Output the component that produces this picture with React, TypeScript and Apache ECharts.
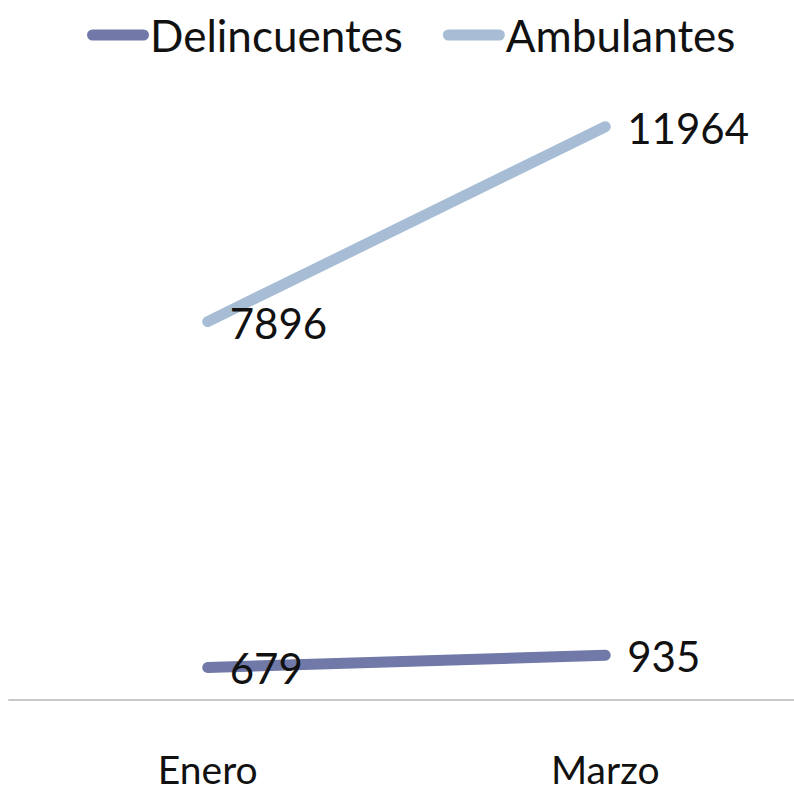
import React, { useEffect, useRef } from "react";
import * as echarts from "echarts";

const categories = ["Enero", "Marzo"];
const delincuentes = [679, 935];
const ambulantes = [7896, 11964];
const seriesNames = ["Delincuentes", "Ambulantes"];

const FONT = "Lato, 'Open Sans', sans-serif";

export default function App() {
  const ref = useRef<HTMLDivElement>(null);
  useEffect(() => {
    if (!ref.current) return;
    const chart = echarts.init(ref.current, null, { renderer: "svg" });
    const icon = "path://M5.5,0 H56.5 A5.5,5.5 0 0 1 56.5,11 H5.5 A5.5,5.5 0 0 1 5.5,0 Z";
    const label = {
      show: true,
      position: "right" as const,
      distance: 22,
      fontSize: 42,
      fontFamily: FONT,
      color: "#111",
      offset: [0, 1],
    };
    chart.setOption({
      animation: false,
      backgroundColor: "#fff",
      legend: {
        top: 8,
        left: 82,
        itemWidth: 62,
        itemHeight: 11,
        itemGap: 40,
        icon,
        textStyle: { fontSize: 44, fontFamily: FONT, color: "#111", padding: [0, 0, 0, -4] },
        data: seriesNames,
      },
      grid: { left: 9, right: 6, top: 125, bottom: 92, containLabel: false },
      xAxis: {
        type: "category",
        data: categories,
        boundaryGap: true,
        axisLine: { lineStyle: { color: "#c8c8c8", width: 2 } },
        axisTick: { show: false },
        axisLabel: { fontSize: 39, lineHeight: 38, fontFamily: FONT, color: "#111", margin: 50 },
      },
      yAxis: {
        type: "value",
        min: 0,
        max: 12000,
        show: false,
        splitLine: { show: false },
      },
      series: [
        {
          name: seriesNames[0],
          type: "line",
          data: delincuentes,
          symbol: "circle",
          symbolSize: 0,
          color: "#7079a8",
          lineStyle: { width: 11, color: "#7079a8", cap: "round" },
          label,
          z: 3,
        },
        {
          name: seriesNames[1],
          type: "line",
          data: ambulantes,
          symbol: "circle",
          symbolSize: 0,
          color: "#a6bdd5",
          lineStyle: { width: 11, color: "#a6bdd5", cap: "round" },
          label,
          z: 2,
        },
      ],
    });
    return () => chart.dispose();
  }, []);
  return (
    <div
      style={{ position: "absolute", left: 0, top: 0, width: 794, height: 792, overflow: "hidden" }}
    >
      <div ref={ref} style={{ width: 810, height: 792 }} />
    </div>
  );
}
